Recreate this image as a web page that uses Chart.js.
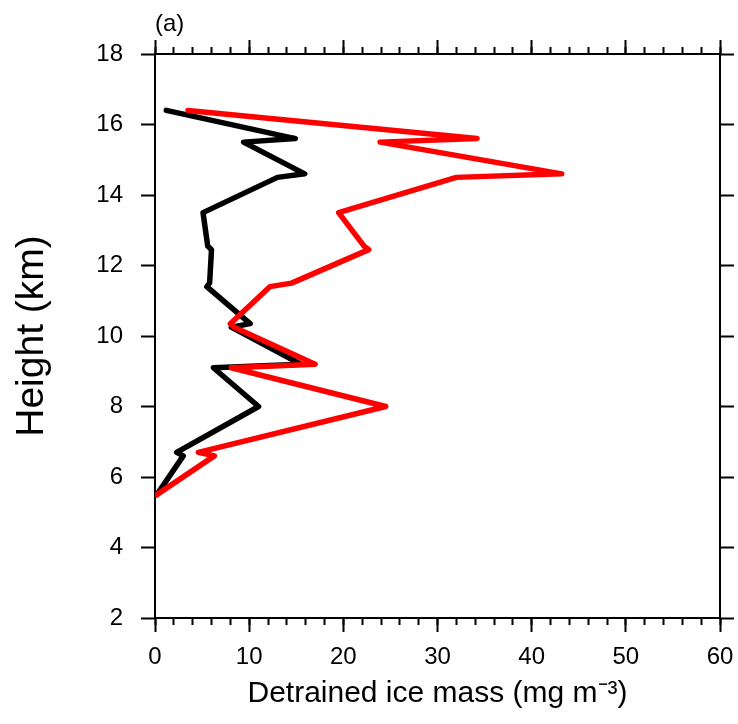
<!DOCTYPE html>
<html>
<head>
<meta charset="utf-8">
<script src="https://cdn.jsdelivr.net/npm/chart.js@4.4.1/dist/chart.umd.min.js"></script>
<style>
  html, body { margin: 0; padding: 0; background: #fff; }
  #wrap { width: 738px; height: 724px; }
</style>
</head>
<body>
<div id="wrap"><canvas id="chart"></canvas></div>
<script>
// --- Data ---
const heights = [16.4, 15.6, 15.5, 14.6, 14.5, 13.5, 12.55, 12.45, 11.5, 11.4,
                 10.35, 10.25, 9.2, 9.1, 8.0, 6.7, 6.6, 5.5];
const blackMass = [1.2, 14.9, 9.4, 15.9, 13.0, 5.1, 5.6, 6.0, 5.8, 5.5,
                   10.1, 8.1, 15.5, 6.2, 11.0, 2.3, 3.0, 0.2];
const redMass = [3.5, 34.2, 23.9, 43.2, 32.0, 19.5, 22.2, 22.7, 14.5, 12.2,
                 8.0, 8.4, 17.0, 8.1, 24.5, 4.6, 6.3, 0.2];
const xTicks = [0, 10, 20, 30, 40, 50, 60];
const yTicks = [2, 4, 6, 8, 10, 12, 14, 16, 18];

const FONT = "'Liberation Sans', Arial, Helvetica, sans-serif";

const toPoints = vals => vals.map((v, i) => ({ x: v, y: heights[i] }));

// frame + outward ticks, shared bits
const majorGrid = { drawOnChartArea: false, drawTicks: true, tickLength: 14, tickWidth: 2, tickColor: "#000" };
const minorGrid = { drawOnChartArea: false, drawTicks: true, tickLength: 7, tickWidth: 2, tickColor: "#000" };
const frame = { display: true, width: 2, color: "#000" };

// fixed box sizes so the plot sits where it does in the picture
function fixBox(size, horizontal) {
  return s => {
    if (horizontal) s.height = size; else s.width = size;
    s.paddingLeft = 0; s.paddingRight = 0;
    s.paddingTop = 0; s.paddingBottom = 0;
  };
}

const panelLabel = {
  id: "panelLabel",
  afterDraw(chart) {
    const ctx = chart.ctx;
    ctx.save();
    ctx.fillStyle = "#000";
    ctx.font = "24px " + FONT;
    ctx.textBaseline = "middle";
    ctx.textAlign = "left";
    ctx.fillText("(a)", chart.chartArea.left, 24);
    ctx.restore();
  }
};

new Chart(document.getElementById("chart"), {
  type: "line",
  data: {
    datasets: [
      {
        label: "red",
        data: toPoints(redMass),
        borderColor: "#ff0000",
        borderWidth: 5.5,
        pointRadius: 0,
        tension: 0,
        borderJoinStyle: "round",
        borderCapStyle: "round",
        xAxisID: "x",
        yAxisID: "y"
      },
      {
        label: "black",
        data: toPoints(blackMass),
        borderColor: "#000000",
        borderWidth: 5.5,
        pointRadius: 0,
        tension: 0,
        borderJoinStyle: "round",
        borderCapStyle: "round",
        xAxisID: "x",
        yAxisID: "y"
      }
    ]
  },
  options: {
    responsive: true,
    maintainAspectRatio: false,
    animation: false,
    layout: { padding: 0, autoPadding: false },
    plugins: {
      legend: { display: false },
      tooltip: { enabled: false }
    },
    scales: {
      x: {
        type: "linear",
        position: "bottom",
        weight: 1,
        min: 0, max: 60,
        afterBuildTicks: s => { s.ticks = xTicks.map(v => ({ value: v })); },
        afterFit: fixBox(106, true),
        grid: majorGrid,
        border: frame,
        ticks: { color: "#000", font: { size: 24, family: FONT }, padding: 11, maxRotation: 0 },
        title: {
          display: true,
          text: "Detrained ice mass (mg m\u207B\u00B3)",
          color: "#000",
          font: { size: 30, family: FONT, lineHeight: 1 },
          padding: { top: 0, bottom: 15 }
        }
      },
      xMinor: {
        type: "linear",
        position: "bottom",
        weight: 0,
        min: 0, max: 60,
        ticks: { display: false, stepSize: 2 },
        afterFit: fixBox(0, true),
        grid: minorGrid,
        border: { display: false }
      },
      xTop: {
        type: "linear",
        position: "top",
        weight: 1,
        min: 0, max: 60,
        afterBuildTicks: s => { s.ticks = xTicks.map(v => ({ value: v })); },
        ticks: { display: false },
        afterFit: fixBox(54, true),
        grid: majorGrid,
        border: frame
      },
      xTopMinor: {
        type: "linear",
        position: "top",
        weight: 0,
        min: 0, max: 60,
        ticks: { display: false, stepSize: 2 },
        afterFit: fixBox(0, true),
        grid: minorGrid,
        border: { display: false }
      },
      y: {
        type: "linear",
        position: "left",
        min: 2, max: 18,
        afterBuildTicks: s => { s.ticks = yTicks.map(v => ({ value: v })); },
        afterFit: fixBox(155, false),
        grid: majorGrid,
        border: frame,
        ticks: { color: "#000", font: { size: 24, family: FONT }, padding: 18 },
        title: {
          display: true,
          text: "Height (km)",
          color: "#000",
          font: { size: 39, family: FONT, lineHeight: 1 },
          padding: { top: 13, bottom: 0 }
        }
      },
      yRight: {
        type: "linear",
        position: "right",
        min: 2, max: 18,
        afterBuildTicks: s => { s.ticks = yTicks.map(v => ({ value: v })); },
        afterFit: fixBox(18, false),
        ticks: { display: false },
        grid: majorGrid,
        border: frame
      }
    }
  },
  plugins: [panelLabel]
});
</script>
</body>
</html>
